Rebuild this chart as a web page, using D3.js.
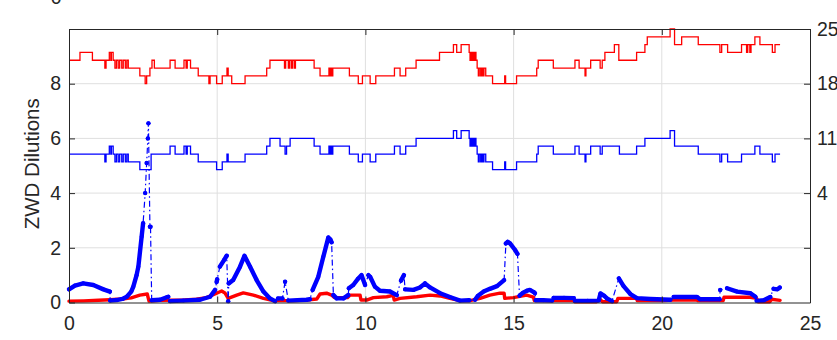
<!DOCTYPE html>
<html>
<head>
    <meta charset="utf-8">
    <script src="https://d3js.org/d3.v7.min.js"></script>
    <style>
        body {
            margin: 0;
            background: #fff;
        }

        text {
            font-family: Arial, "Liberation Sans", sans-serif;
            fill: #262626;
        }

        .axis path, .axis line {
            stroke: #262626;
            stroke-width: 1;
        }

        .axis text {
            font-size: 19.5px;
            fill: #262626;
        }

        .grid line {
            stroke: #dfdfdf;
            stroke-width: 1;
        }
    </style>
</head>
<body>
    <script>
        // ticks
        const xTicks = [0, 5, 10, 15, 20, 25];
        const leftTicks = [0, 2, 4, 6, 8];
        const rightTicks = [-3, 4, 11, 18, 25];
        const rightTickLabels = ["", "4", "11", "18", "25"];

        // upper step series on the right axis: [hour, value] change points
        const redStep = [
            [0, 21], [0.37, 22], [0.79, 21], [1.21, 20], [1.25, 21], [1.36, 22], [1.41, 21], [1.43, 22], [1.49, 21],
            [1.55, 20], [1.6, 21], [1.66, 20], [1.71, 21], [1.78, 20], [1.83, 21], [1.9, 20], [1.95, 21], [2.0, 20],
            [2.39, 19], [2.57, 18], [2.62, 19], [2.73, 20], [2.8, 21], [2.88, 20], [3.41, 21], [3.58, 20], [3.88, 21],
            [3.95, 20], [3.99, 21], [4.1, 20], [4.36, 19], [4.72, 18], [4.76, 19], [4.98, 18], [5.17, 19], [5.33, 20],
            [5.37, 19], [5.49, 18], [5.94, 19], [6.67, 20], [6.78, 21], [7.27, 20], [7.31, 21], [7.4, 20], [7.44, 21],
            [7.5, 20], [7.54, 21], [7.6, 20], [7.64, 21], [8.27, 20], [8.47, 19], [8.77, 20], [8.8, 19], [8.83, 20],
            [8.86, 19], [8.9, 20], [9.46, 19], [9.76, 18], [9.9, 19], [10.16, 18], [10.35, 19], [10.98, 20], [11.17, 19],
            [11.36, 20], [11.71, 21], [12.5, 22], [12.97, 23], [13.08, 22], [13.23, 23], [13.5, 22], [13.53, 21],
            [13.56, 22], [13.6, 21], [13.63, 22], [13.67, 21], [13.7, 22], [13.73, 21], [13.77, 20], [13.81, 19],
            [13.84, 20], [13.89, 19], [13.93, 20], [13.97, 19], [14.0, 20], [14.06, 19], [14.29, 18], [14.7, 19],
            [14.73, 18], [15.1, 19], [15.78, 20], [15.83, 21], [16.34, 20], [17.07, 21], [17.21, 20], [17.41, 19],
            [17.44, 20], [17.6, 21], [17.92, 20], [17.99, 21], [18.08, 22], [18.4, 23], [18.55, 21], [19.15, 22],
            [19.43, 23], [19.51, 24], [20.28, 25], [20.43, 23], [20.67, 24], [21.23, 23], [21.96, 22], [22.02, 23],
            [22.22, 22], [22.69, 23], [22.86, 22], [22.9, 23], [22.97, 22], [23.01, 23], [23.14, 24], [23.31, 23],
            [23.73, 22], [23.82, 23], [23.99, 23]
        ];

        const blueStep = [
            [0, 9], [1.21, 8], [1.25, 9], [1.36, 10], [1.41, 9], [1.43, 10], [1.49, 9], [1.55, 8], [1.6, 9], [1.66, 8],
            [1.71, 9], [1.78, 8], [1.83, 9], [1.9, 8], [1.95, 9], [2.0, 8], [2.39, 7], [2.77, 9], [3.41, 10], [3.58, 9],
            [3.88, 10], [3.95, 9], [3.99, 10], [4.1, 9], [4.36, 8], [4.98, 7], [5.17, 8], [5.33, 9], [5.37, 8], [5.94, 9],
            [6.67, 10], [6.78, 11], [7.12, 10], [7.29, 9], [7.34, 10], [7.46, 11], [8.27, 10], [8.47, 9], [8.77, 10],
            [8.8, 9], [8.83, 10], [8.86, 9], [8.9, 10], [9.46, 9], [9.76, 8], [9.9, 9], [10.16, 8], [10.35, 9],
            [10.98, 10], [11.17, 9], [11.36, 10], [11.71, 11], [12.97, 12], [13.08, 11], [13.23, 12], [13.5, 11],
            [13.53, 10], [13.56, 11], [13.6, 10], [13.63, 11], [13.67, 10], [13.7, 11], [13.73, 10], [13.77, 9],
            [13.81, 8], [13.84, 9], [13.89, 8], [13.93, 9], [13.97, 8], [14.0, 9], [14.06, 8], [14.29, 7], [14.7, 8],
            [14.73, 7], [15.1, 8], [15.78, 9], [15.83, 10], [16.34, 9], [17.07, 10], [17.21, 9], [17.41, 8], [17.44, 9],
            [17.6, 10], [17.92, 9], [17.99, 10], [18.57, 9], [19.15, 10], [19.43, 11], [20.28, 12], [20.43, 10],
            [21.23, 9], [21.96, 8], [22.02, 9], [22.22, 8], [22.69, 9], [23.14, 10], [23.31, 9], [23.73, 8],
            [23.82, 9], [23.99, 9]
        ];

        // lower ZWD dilution series on the left axis, split where the markers break
        const blueZwd = [
            [[0, 0.48], [0.2, 0.62], [0.48, 0.7], [0.82, 0.64], [1.16, 0.48], [1.38, 0.4]],
            [[1.39, 0.07], [1.61, 0.09], [1.8, 0.13], [1.95, 0.21], [2.1, 0.4], [2.17, 0.58], [2.28, 1.0], [2.34, 1.31],
             [2.45, 2.4], [2.5, 2.9]],
            [[2.57, 4.0]], [[2.62, 5.1]], [[2.66, 6.0]], [[2.68, 6.55]],
            [[2.73, 2.77], [2.75, 2.77]],
            [[2.79, 0.08], [3.07, 0.1], [3.3, 0.19], [3.35, 0.21]],
            [[3.41, 0.05], [3.86, 0.07], [4.42, 0.1], [4.76, 0.21], [4.93, 0.46]],
            [[4.98, 0.75], [5.0, 0.85]],
            [[5.09, 1.31], [5.23, 1.55], [5.32, 1.71]],
            [[5.37, 0.05]],
            [[5.39, 0.7], [5.54, 0.82], [5.77, 1.31], [5.92, 1.71], [6.11, 1.31], [6.33, 0.82], [6.56, 0.4],
             [6.78, 0.15], [6.95, 0.05]],
            [[7.05, 0.15], [7.2, 0.15]],
            [[7.29, 0.76]],
            [[7.4, 0.07], [8.02, 0.1], [8.13, 0.12]],
            [[8.22, 0.46], [8.41, 0.94], [8.58, 1.67], [8.75, 2.38], [8.82, 2.3], [8.86, 2.2]],
            [[8.92, 0.27], [9.03, 0.15], [9.26, 0.15], [9.42, 0.27]],
            [[9.44, 0.52], [9.59, 0.64], [9.76, 0.88], [9.87, 1.0], [9.99, 0.64]],
            [[10.1, 1.0], [10.16, 0.94], [10.32, 0.58], [10.49, 0.43], [10.83, 0.4], [11.06, 0.27]],
            [[11.2, 0.8], [11.3, 1.0]],
            [[11.34, 0.48], [11.62, 0.46], [11.84, 0.55], [12.01, 0.7], [12.18, 0.55], [12.52, 0.34], [12.85, 0.2],
             [13.19, 0.07], [13.5, 0.08]],
            [[13.7, 0.1], [13.8, 0.25], [13.99, 0.4], [14.2, 0.5], [14.44, 0.6], [14.68, 0.82]],
            [[14.74, 2.16], [14.8, 2.22], [14.88, 2.16], [15.05, 1.92], [15.13, 1.78]],
            [[15.2, 0.25], [15.32, 0.36], [15.45, 0.43], [15.55, 0.46], [15.68, 0.38], [15.72, 0.34]],
            [[15.75, 0.08], [16.0, 0.08], [16.3, 0.07]],
            [[16.35, 0.17], [16.7, 0.17], [17.03, 0.16]],
            [[17.07, 0.06], [17.5, 0.06], [17.87, 0.07], [17.93, 0.33], [18.05, 0.25], [18.15, 0.15], [18.32, 0.05]],
            [[18.55, 0.88], [18.71, 0.6], [18.94, 0.31], [19.16, 0.16], [19.61, 0.13], [20.29, 0.1]],
            [[20.4, 0.2], [20.8, 0.2], [21.19, 0.2], [21.29, 0.12], [21.6, 0.12], [21.95, 0.12]],
            [[21.97, 0.46]],
            [[22.2, 0.52], [22.54, 0.4], [22.99, 0.34], [23.16, 0.21]],
            [[23.2, 0.06], [23.44, 0.08], [23.66, 0.2]],
            [[23.77, 0.5], [23.9, 0.48], [23.98, 0.55]]
        ];

        const redZwd = [
            [0, 0.05], [0.5, 0.06], [1.0, 0.08], [1.38, 0.1], [1.8, 0.13], [2.1, 0.17], [2.39, 0.27], [2.64, 0.31],
            [2.7, 0.05], [3.07, 0.08], [3.9, 0.09], [4.3, 0.12], [4.64, 0.18], [4.98, 0.34], [5.15, 0.42], [5.26, 0.35],
            [5.37, 0.15], [5.66, 0.27], [5.88, 0.35], [6.22, 0.27], [6.56, 0.15], [6.89, 0.07], [7.57, 0.07],
            [8.02, 0.09], [8.36, 0.13], [8.47, 0.31], [8.69, 0.34], [8.86, 0.27], [8.95, 0.18], [9.4, 0.18],
            [9.48, 0.27], [9.82, 0.27], [9.85, 0.09], [10.04, 0.09], [10.27, 0.18], [10.72, 0.21], [10.94, 0.26],
            [10.97, 0.09], [11.17, 0.15], [11.73, 0.21], [12.18, 0.27], [12.52, 0.24], [12.85, 0.15], [13.19, 0.07],
            [13.53, 0.07], [13.87, 0.15], [14.2, 0.27], [14.54, 0.34], [14.68, 0.34], [14.7, 0.15], [14.99, 0.18],
            [15.44, 0.27], [15.67, 0.2], [15.7, 0.07], [16.46, 0.07], [17.0, 0.07], [17.07, 0.03], [17.8, 0.03],
            [17.91, 0.12], [18.0, 0.03], [18.48, 0.03], [18.52, 0.15], [19.15, 0.15], [19.17, 0.07], [20.05, 0.07],
            [20.39, 0.09], [21.18, 0.09], [21.2, 0.07], [22.07, 0.07], [22.1, 0.19], [22.98, 0.19], [23.2, 0.15],
            [23.25, 0.03], [23.65, 0.03], [23.7, 0.12], [23.99, 0.08]
        ];

        const width = 837, height = 340;
        const plotLeft = 69, plotRight = 810, plotTop = 29, plotBottom = 302.5;

        const svg = d3.select("body").append("svg")
            .attr("width", width)
            .attr("height", height);

        const x = d3.scaleLinear().domain([0, 25]).range([plotLeft, plotRight]);
        const yL = d3.scaleLinear().domain([0, 10]).range([plotBottom, plotTop]);
        const yR = d3.scaleLinear().domain([-10, 25]).range([plotBottom, plotTop]);

        // grid
        const grid = svg.append("g").attr("class", "grid");
        grid.selectAll(".gx")
            .data(xTicks.slice(1, -1))
            .enter().append("line")
            .attr("x1", d => x(d)).attr("x2", d => x(d))
            .attr("y1", plotTop).attr("y2", plotBottom);
        grid.selectAll(".gy")
            .data(leftTicks.slice(1))
            .enter().append("line")
            .attr("x1", plotLeft).attr("x2", plotRight)
            .attr("y1", d => yL(d)).attr("y2", d => yL(d));

        const lineL = d3.line().x(d => x(d[0])).y(d => yL(d[1]));
        const stepR = d3.line().x(d => x(d[0])).y(d => yR(d[1])).curve(d3.curveStepAfter);

        // red lower trail
        svg.append("path")
            .attr("d", lineL(redZwd))
            .attr("fill", "none")
            .attr("stroke", "#ff0000")
            .attr("stroke-width", 3.4)
            .attr("stroke-linejoin", "round")
            .attr("stroke-linecap", "round");

        // blue lower: dash-dot line through everything, thick markers per segment
        svg.append("path")
            .attr("d", lineL(blueZwd.flat()))
            .attr("fill", "none")
            .attr("stroke", "#0000ff")
            .attr("stroke-width", 1.2)
            .attr("stroke-dasharray", "6,3,1.5,3");

        svg.append("g")
            .selectAll("path")
            .data(blueZwd)
            .enter().append("path")
            .attr("d", d => lineL(d))
            .attr("fill", "none")
            .attr("stroke", "#0000ff")
            .attr("stroke-width", 4.4)
            .attr("stroke-linejoin", "round")
            .attr("stroke-linecap", "round");

        svg.append("g")
            .selectAll("circle")
            .data(blueZwd.flat())
            .enter().append("circle")
            .attr("cx", d => x(d[0]))
            .attr("cy", d => yL(d[1]))
            .attr("r", 2)
            .attr("fill", "#0000ff");

        // upper step lines
        svg.append("path")
            .attr("d", stepR(redStep))
            .attr("fill", "none")
            .attr("stroke", "#ff0000")
            .attr("stroke-width", 1.3);

        svg.append("path")
            .attr("d", stepR(blueStep))
            .attr("fill", "none")
            .attr("stroke", "#0000ff")
            .attr("stroke-width", 1.3);

        // axes, ticks pointing inward
        svg.append("g")
            .attr("class", "axis")
            .attr("transform", `translate(0,${plotBottom})`)
            .call(d3.axisBottom(x).tickValues(xTicks).tickSizeInner(-6).tickSizeOuter(0).tickPadding(14));

        svg.append("g")
            .attr("class", "axis")
            .attr("transform", `translate(0,${plotTop})`)
            .call(d3.axisTop(x).tickValues(xTicks).tickSizeInner(-6).tickSizeOuter(0).tickFormat(""));

        svg.append("g")
            .attr("class", "axis")
            .attr("transform", `translate(${plotLeft},0)`)
            .call(d3.axisLeft(yL).tickValues(leftTicks).tickSizeInner(-6).tickSizeOuter(0).tickPadding(8));

        svg.append("g")
            .attr("class", "axis")
            .attr("transform", `translate(${plotRight},0)`)
            .call(d3.axisRight(yR).tickValues(rightTicks).tickSizeInner(-6).tickSizeOuter(0).tickPadding(7)
                .tickFormat((d, i) => rightTickLabels[i]));

        svg.selectAll(".axis .domain").attr("stroke", "#262626");

        // y label
        svg.append("text")
            .attr("transform", `translate(39,${(plotTop + plotBottom) / 2 - 2}) rotate(-90)`)
            .attr("text-anchor", "middle")
            .style("font-size", "20.5px")
            .text("ZWD Dilutions");

        // clipped label at the very top
        svg.append("text")
            .attr("x", 61.5)
            .attr("y", 3.5)
            .attr("text-anchor", "end")
            .style("font-size", "19.5px")
            .text("0");
    </script>
</body>
</html>
